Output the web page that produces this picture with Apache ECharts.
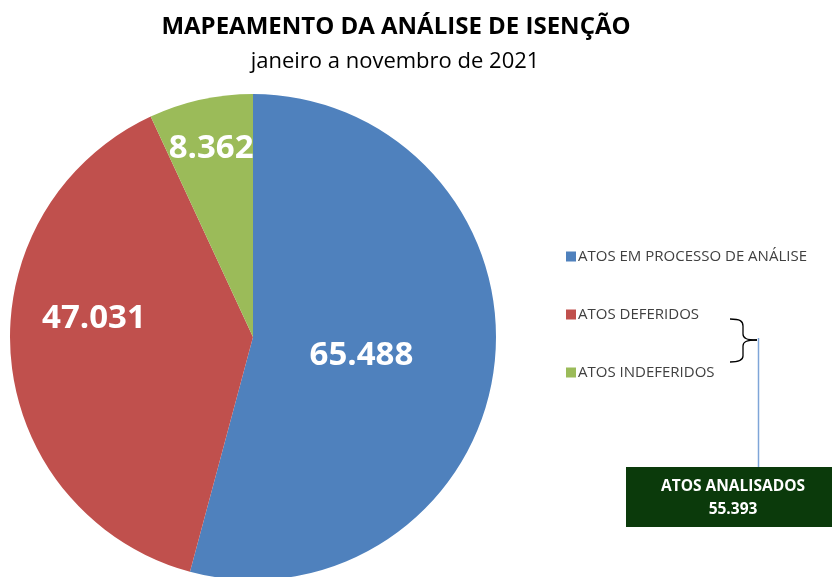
<!DOCTYPE html>
<html>
<head>
<meta charset="utf-8">
<script src="https://cdn.jsdelivr.net/npm/echarts@6/dist/echarts.min.js"></script>
<style>
html,body{margin:0;padding:0;background:#fff;}
#chart{width:832px;height:577px;}
</style>
</head>
<body>
<div id="chart"></div>
<script>
var categories = ['ATOS EM PROCESSO DE ANÁLISE', 'ATOS DEFERIDOS', 'ATOS INDEFERIDOS'];
var values = [65488, 47031, 8362];
var colors = ['#4F81BD', '#C0504D', '#9BBB59'];
var analisados = 55393;

// label nudges (Excel best-fit places labels at different radii)
var labelShift = [[-15, 2], [-35, -29], [-15, -67]];

function fmt(n){
	return String(n).replace(/\B(?=(\d{3})+(?!\d))/g, '.');
}

var myChart = echarts.init(document.getElementById('chart'));

var brace = {stroke: '#000', lineWidth: 1.3, fill: null};

var option = {
	animation: false,
	title: [
		{text: 'MAPEAMENTO DA ANÁLISE DE ISENÇÃO', left: 391, top: 10, textAlign: 'center',
		 textStyle: {fontFamily: 'Open Sans', fontWeight: 'bold', fontSize: 24, color: '#000'}},
		{text: 'janeiro a novembro de 2021', left: 390, top: 46, textAlign: 'center',
		 textStyle: {fontFamily: 'Open Sans', fontWeight: 'normal', fontSize: 22, color: '#000'}}
	],
	legend: {
		orient: 'vertical',
		left: 566, top: 249,
		padding: 0,
		itemWidth: 10, itemHeight: 10, itemGap: 43,
		icon: 'rect',
		data: categories,
		textStyle: {fontFamily: 'Open Sans', fontSize: 15, color: '#404040', padding: [0,0,0,-3]}
	},
	series: [{
		type: 'pie',
		center: [253, 337],
		radius: 243,
		startAngle: 90,
		clockwise: true,
		avoidLabelOverlap: false,
		itemStyle: {borderWidth: 0},
		label: {
			position: 'inside',
			formatter: function(p){ return fmt(p.value); },
			fontFamily: 'Open Sans', fontWeight: 'bold', fontSize: 33, color: '#fff'
		},
		labelLine: {show: false},
		labelLayout: function(p){
			var s = labelShift[p.dataIndex];
			return {dx: s[0], dy: s[1]};
		},
		emphasis: {disabled: true},
		data: categories.map(function(c, i){
			return {name: c, value: values[i], itemStyle: {color: colors[i]}};
		})
	}],
	graphic: [
		// curly brace
		{type: 'bezierCurve', shape: {x1: 730, y1: 319, cpx1: 740, cpy1: 319, cpx2: 743, cpy2: 321, x2: 743, y2: 326}, style: brace},
		{type: 'line', shape: {x1: 743, y1: 326, x2: 743, y2: 334}, style: brace},
		{type: 'bezierCurve', shape: {x1: 743, y1: 334, cpx1: 743, cpy1: 338, cpx2: 746, cpy2: 340, x2: 757, y2: 340}, style: brace},
		{type: 'bezierCurve', shape: {x1: 757, y1: 340, cpx1: 746, cpy1: 340, cpx2: 743, cpy2: 342, x2: 743, y2: 346}, style: brace},
		{type: 'line', shape: {x1: 743, y1: 346, x2: 743, y2: 356}, style: brace},
		{type: 'bezierCurve', shape: {x1: 743, y1: 356, cpx1: 743, cpy1: 360, cpx2: 740, cpy2: 362, x2: 730, y2: 362}, style: brace},
		{type: 'line', shape: {x1: 758.5, y1: 338, x2: 758.5, y2: 467}, style: {stroke: '#7FA5D8', lineWidth: 1.5}},
		{type: 'rect', shape: {x: 626, y: 467, width: 206, height: 60}, style: {fill: '#0B3A0B'}},
		{type: 'text', x: 733, y: 498, style: {text: 'ATOS ANALISADOS\n' + fmt(analisados), align: 'center', verticalAlign: 'middle',
		 fill: '#fff', fontFamily: 'Open Sans', fontWeight: 'bold', fontSize: 15.5, lineHeight: 23}}
	]
};

myChart.setOption(option);
</script>
</body>
</html>
